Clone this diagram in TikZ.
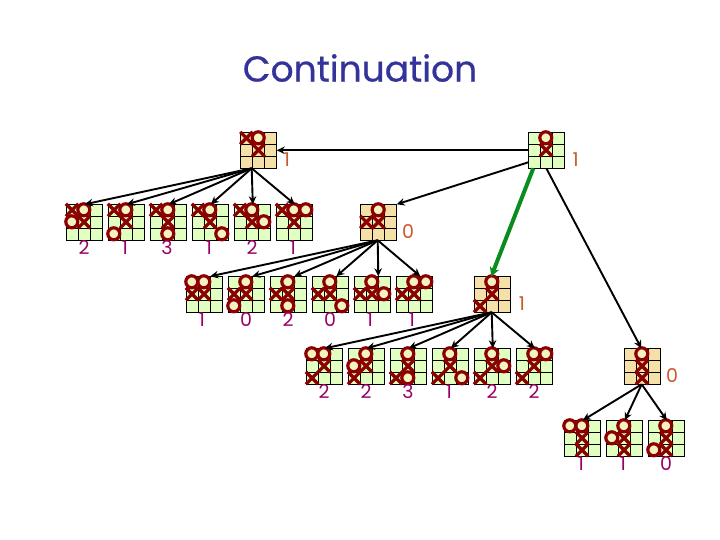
\documentclass[tikz,border=0pt]{standalone}
\usepackage{fontspec}
\setmainfont{Poppins}
\newfontfamily\titlefont[FakeBold=0.6]{Poppins}
\usetikzlibrary{arrows.meta}
\definecolor{beige}{HTML}{F5E0A8}
\definecolor{pale}{HTML}{E0FFC0}
\definecolor{ink}{HTML}{8B0000}
\definecolor{ringfill}{HTML}{F5F2C0}
\definecolor{titleblue}{HTML}{333399}
\definecolor{purp}{HTML}{990066}
\definecolor{rust}{HTML}{C8582A}
\definecolor{gr}{HTML}{0B8C1E}
\tikzset{
  boardbase/.style={draw=black,line width=1.1pt,minimum width=36pt,minimum height=36pt,inner sep=0pt,outer sep=0pt,anchor=north west},
  bgb/.style={boardbase,fill=beige},
  bgg/.style={boardbase,fill=pale},
  gridl/.style={black,line width=1.1pt},
  xmark/.style={ink,line width=3.2pt},
  omark/.style={draw=ink,fill=ringfill,line width=3.2pt},
  arr/.style={black,line width=1.9pt,-{Stealth[length=8pt,width=7.5pt]}},
  gline/.style={gr,line width=4pt,-{Stealth[length=9pt,width=10pt]}},
  val/.style={purp,font=\fontsize{19}{19}\selectfont,inner sep=0pt},
  orval/.style={rust,font=\fontsize{19}{19}\selectfont,inner sep=0pt},
}
\newcommand{\brd}[6]{%
  \node[#4] (#1) at (#2,#3) {};
  \begin{scope}[shift={(#2,#3)}]
    \draw[gridl] (12,0)--(12,36) (24,0)--(24,36) (0,12)--(36,12) (0,24)--(36,24);
    \foreach \cc/\rr in {#5}{
      \draw[xmark] ({\cc*12-0.5},{\rr*12-0.5})--({\cc*12+12},{\rr*12+12});
      \draw[xmark] ({\cc*12+12},{\rr*12-0.5})--({\cc*12-0.5},{\rr*12+12});
    }
    \foreach \cc/\rr in {#6}{
      \draw[omark] ({\cc*12+5.5},{\rr*12+5.5}) circle[radius=6pt];
    }
  \end{scope}}
\begin{document}
\begin{tikzpicture}[x=1pt,y=-1pt]
\path[use as bounding box] (0,0) rectangle (720,540);
\node[titleblue,font=\fontsize{36}{36}\titlefont,inner sep=0pt] (title) at (360,68) {Continuation};
% top
\brd{rootL}{240.7}{132.3}{bgb}{0/0,1/1}{1/0}
\brd{rootR}{528.3}{132.3}{bgg}{1/1}{1/0}
% row 2
\brd{a1}{66.3}{204.3}{bgg}{0/0,1/1}{1/0,0/1}
\brd{a2}{108.3}{204.3}{bgg}{0/0,1/1}{1/0,0/2}
\brd{a3}{150.3}{204.3}{bgg}{0/0,1/1}{1/0,1/2}
\brd{a4}{192.3}{204.3}{bgg}{0/0,1/1}{1/0,2/2}
\brd{a5}{234.3}{204.3}{bgg}{0/0,1/1}{1/0,2/1}
\brd{a6}{276.3}{204.3}{bgg}{0/0,1/1}{1/0,2/0}
\brd{mid}{360.7}{204.3}{bgb}{0/1,1/1}{1/0}
% row 3
\brd{b1}{186.3}{276.3}{bgg}{0/1,1/1}{1/0,0/0}
\brd{b2}{228.3}{276.3}{bgg}{0/1,1/1}{1/0,0/2}
\brd{b3}{270.3}{276.3}{bgg}{0/1,1/1}{1/0,1/2}
\brd{b4}{312.3}{276.3}{bgg}{0/1,1/1}{1/0,2/2}
\brd{b5}{354.3}{276.3}{bgg}{0/1,1/1}{1/0,2/1}
\brd{b6}{396.3}{276.3}{bgg}{0/1,1/1}{1/0,2/0}
\brd{low}{474.3}{276.3}{bgb}{1/1,0/2}{1/0}
% row 4
\brd{c1}{306.3}{348.3}{bgg}{1/1,0/2}{1/0,0/0}
\brd{c2}{348.3}{348.3}{bgg}{1/1,0/2}{1/0,0/1}
\brd{c3}{390.3}{348.3}{bgg}{1/1,0/2}{1/0,1/2}
\brd{c4}{432.3}{348.3}{bgg}{1/1,0/2}{1/0,2/2}
\brd{c5}{474.3}{348.3}{bgg}{1/1,0/2}{1/0,2/1}
\brd{c6}{516.3}{348.3}{bgg}{1/1,0/2}{1/0,2/0}
\brd{right}{624.3}{348.3}{bgb}{1/1,1/2}{1/0}
% row 5
\brd{d1}{564.3}{420.3}{bgg}{1/1,1/2}{1/0,0/0}
\brd{d2}{606.3}{420.3}{bgg}{1/1,1/2}{1/0,0/1}
\brd{d3}{648.3}{420.3}{bgg}{1/1,1/2}{1/0,0/2}
% connectors
\draw[arr] ([yshift=18pt]rootR.south west) -- ([yshift=18pt]rootL.south east);
\draw[arr] ([yshift=6pt]rootR.south west) -- (mid.north east);
\draw[gline] ([xshift=5pt]rootR.south west) -- ([xshift=-1pt]low.north);
\draw[arr] (rootR.south) -- ([xshift=-1pt]right.north);
\foreach \t in {a1,a2,a3,a4,a5,a6}
  \draw[arr] ([xshift=-7pt]rootL.south) -- ([xshift=.5pt]\t.north);
\foreach \t in {b1,b2,b3,b4,b5,b6}
  \draw[arr] ([xshift=-1pt]mid.south) -- ([xshift=6pt]\t.north);
\foreach \t in {c1,c2,c3,c4,c5,c6}
  \draw[arr] ([xshift=-.6pt]low.south) -- ([xshift=.5pt]\t.north);
\foreach \t in {d1,d2,d3}
  \draw[arr] ([xshift=-.6pt]right.south) -- ([xshift=.5pt]\t.north);
% values
\node[orval] (v0) at (287,160) {1};
\node[orval] (v1) at (575.7,160) {1};
\node[orval] (v2) at (408,232) {0};
\node[orval] (v3) at (522,304) {1};
\node[orval] (v4) at (672,376) {0};
\node[val] (va1) at (84,248) {2};
\node[val] (va2) at (125,248) {1};
\node[val] (va3) at (167,248) {3};
\node[val] (va4) at (209,248) {1};
\node[val] (va5) at (252,248) {2};
\node[val] (va6) at (293,248) {1};
\node[val] (vb1) at (202,320) {1};
\node[val] (vb2) at (246,320) {0};
\node[val] (vb3) at (288,320) {2};
\node[val] (vb4) at (330,320) {0};
\node[val] (vb5) at (370,320) {1};
\node[val] (vb6) at (412,320) {1};
\node[val] (vc1) at (324,392) {2};
\node[val] (vc2) at (366,392) {2};
\node[val] (vc3) at (408,392) {3};
\node[val] (vc4) at (449,392) {1};
\node[val] (vc5) at (492,392) {2};
\node[val] (vc6) at (534,392) {2};
\node[val] (vd1) at (581,464) {1};
\node[val] (vd2) at (623,464) {1};
\node[val] (vd3) at (666,464) {0};
\end{tikzpicture}
\end{document}
